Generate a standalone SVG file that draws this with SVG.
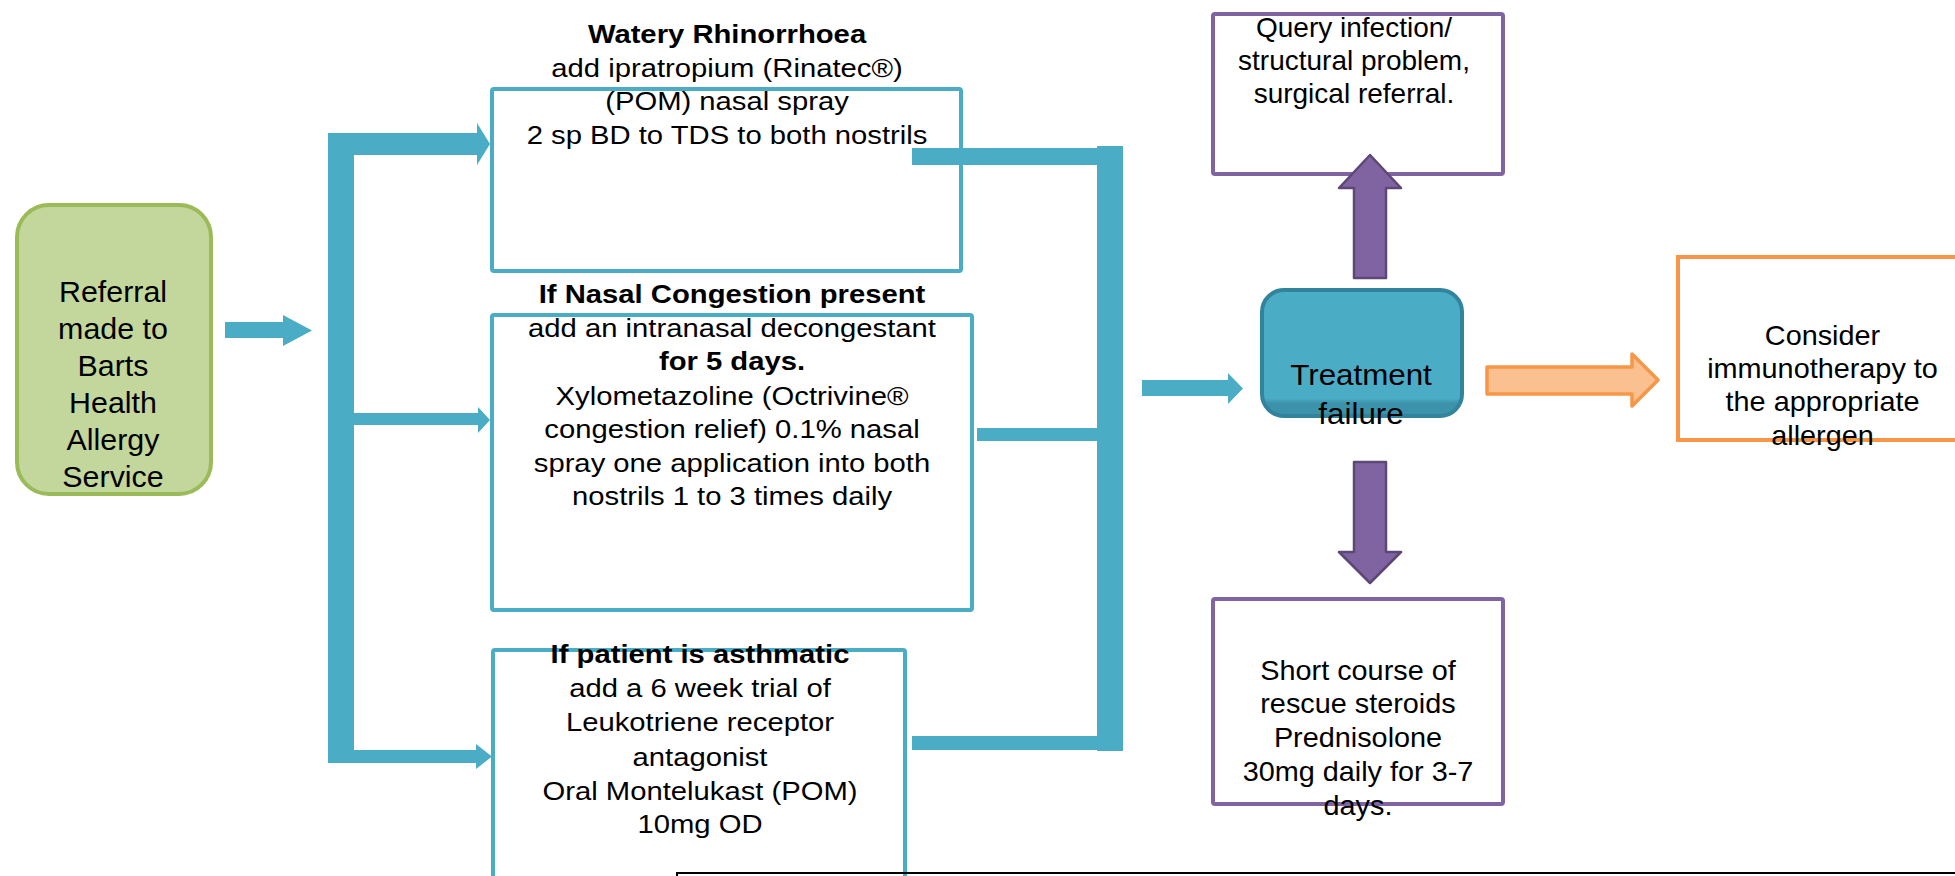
<svg xmlns="http://www.w3.org/2000/svg" width="1955" height="876" viewBox="0 0 1955 876">
<defs>
<style>
text{font-family:"Liberation Sans",Arial,sans-serif;fill:#000;text-anchor:middle}
.l{font-size:25px}
.r{font-size:28px}
.b{font-weight:bold}
.tealbox{fill:#fff;stroke:#4bacc6;stroke-width:4}
.purbox{fill:#fff;stroke:#8064a2;stroke-width:4}
.teal{fill:#4bacc6}
.purarrow{fill:#8064a2;stroke:#5c4776;stroke-width:2.5;stroke-linejoin:round}
</style>
<linearGradient id="tf" x1="0" y1="0" x2="0" y2="1">
<stop offset="0" stop-color="#4bacc6"/>
<stop offset="0.86" stop-color="#4bacc6"/>
<stop offset="0.9" stop-color="#3c92aa"/>
<stop offset="1" stop-color="#3c92aa"/>
</linearGradient>
</defs>
<rect width="1955" height="876" fill="#fff"/>

<g id="referral">
<rect x="17" y="205" width="194" height="289" rx="32" fill="#c3d69b" stroke="#9bbb59" stroke-width="4"/>
<g transform="translate(113,0) scale(1.03,1)" style="font-size:29.5px">
<text x="0" y="302">Referral</text>
<text x="0" y="339">made to</text>
<text x="0" y="376">Barts</text>
<text x="0" y="413">Health</text>
<text x="0" y="450">Allergy</text>
<text x="0" y="487">Service</text>
</g>
</g>

<g id="rhinorrhoea">
<rect class="tealbox" x="492" y="89" width="469" height="182" rx="2"/>
<g transform="translate(727,0) scale(1.17,1)" class="l">
<text x="0" y="43" class="b">Watery Rhinorrhoea</text>
<text x="0" y="77">add ipratropium (Rinatec®)</text>
<text x="0" y="110.5">(POM) nasal spray</text>
<text x="0" y="144">2 sp BD to TDS to both nostrils</text>
</g>
</g>

<g id="congestion">
<rect class="tealbox" x="492" y="315" width="480" height="295" rx="2"/>
<g transform="translate(732,0) scale(1.17,1)" class="l">
<text x="0" y="303" class="b">If Nasal Congestion present</text>
<text x="0" y="337">add an intranasal decongestant</text>
<text x="0" y="370.5" class="b">for 5 days.</text>
<text x="0" y="405">Xylometazoline (Octrivine®</text>
<text x="0" y="438.5">congestion relief) 0.1% nasal</text>
<text x="0" y="472">spray one application into both</text>
<text x="0" y="505.5">nostrils 1 to 3 times daily</text>
</g>
</g>

<g id="asthmatic">
<rect class="tealbox" x="493" y="650" width="412" height="260" rx="2"/>
<g transform="translate(700,0) scale(1.17,1)" class="l">
<text x="0" y="663" class="b">If patient is asthmatic</text>
<text x="0" y="697">add a 6 week trial of</text>
<text x="0" y="731.5">Leukotriene receptor</text>
<text x="0" y="766">antagonist</text>
<text x="0" y="800">Oral Montelukast (POM)</text>
<text x="0" y="833.5">10mg OD</text>
</g>
</g>

<g id="treatment">
<rect x="1262" y="290" width="200" height="126" rx="22" fill="url(#tf)" stroke="#31849b" stroke-width="4"/>
<g transform="translate(1361,0) scale(1.08,1)" style="font-size:29px">
<text x="0" y="385">Treatment</text>
<text x="0" y="424">failure</text>
</g>
</g>

<g id="query">
<rect class="purbox" x="1213" y="14" width="290" height="160" rx="2"/>
<g transform="translate(1354,0)" class="r">
<text x="0" y="37">Query infection/</text>
<text x="0" y="70">structural problem,</text>
<text x="0" y="103">surgical referral.</text>
</g>
</g>

<g id="steroids">
<rect class="purbox" x="1213" y="599" width="290" height="205" rx="2"/>
<g transform="translate(1358,0) scale(1.03,1)" class="r">
<text x="0" y="680">Short course of</text>
<text x="0" y="713.5">rescue steroids</text>
<text x="0" y="747">Prednisolone</text>
<text x="0" y="781">30mg daily for 3-7</text>
<text x="0" y="815">days.</text>
</g>
</g>

<g id="immunotherapy">
<rect x="1678" y="257" width="320" height="183" fill="#fff" stroke="#f79646" stroke-width="4"/>
<g transform="translate(1822.5,0) scale(1.03,1)" class="r">
<text x="0" y="345">Consider</text>
<text x="0" y="378">immunotherapy to</text>
<text x="0" y="411.5">the appropriate</text>
<text x="0" y="445">allergen</text>
</g>
</g>

<g id="connectors">
<path class="teal" d="M225,322 H283 V315 L312,330.5 L283,346 V338 H225 Z"/>
<rect class="teal" x="328" y="133" width="26" height="630"/>
<path class="teal" d="M354,133 H477 V123 L490,144 L477,165 V155 H354 Z"/>
<path class="teal" d="M354,413 H478 V407 L490,420 L478,433 V425 H354 Z"/>
<path class="teal" d="M354,750 H476 V744 L492,756.5 L476,769 V763 H354 Z"/>
<rect class="teal" x="1097" y="146" width="26" height="605"/>
<rect class="teal" x="912" y="148" width="186" height="17"/>
<rect class="teal" x="977" y="428" width="121" height="13"/>
<rect class="teal" x="912" y="736" width="186" height="14"/>
<path class="teal" d="M1142,380 H1228 V373 L1243,388.5 L1228,404 V396 H1142 Z"/>
<path class="purarrow" d="M1354,278 V188 H1339 L1370,155 L1401,188 H1386 V278 Z"/>
<path class="purarrow" d="M1354,462 V552 H1339 L1370,583 L1401,552 H1386 V462 Z"/>
<path d="M1487,367 H1632 V354 L1658,380 L1632,406 V394 H1487 Z" fill="#fac090" stroke="#f79646" stroke-width="3.5" stroke-linejoin="round"/>
</g>

<g id="footer">
<rect x="677" y="873" width="1320" height="40" fill="none" stroke="#000" stroke-width="2"/>
</g>
</svg>
